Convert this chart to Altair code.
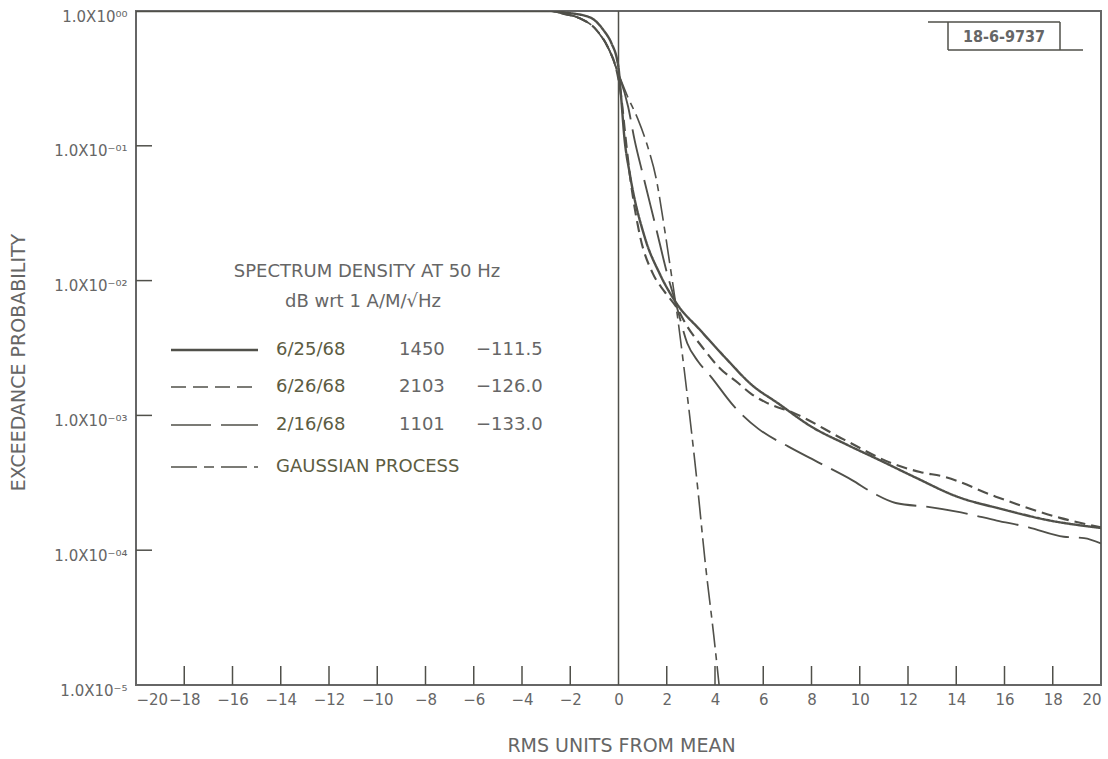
import altair as alt
import pandas as pd

# ---------------- data ----------------
series_names = ["6/25/68", "6/26/68", "2/16/68", "GAUSSIAN PROCESS"]
# x = RMS units from mean, e = log10(exceedance probability)
s1_x = [-20, -2.8, -2.2, -1.21, -0.63, -0.29, -0.06, 0.0, 0.1, 0.25, 0.46, 1.09, 1.71, 2.41, 3.4, 4.52, 5.5, 6.61, 8.0, 9.5, 10.8, 12.3, 14.0, 16.0, 17.77, 20.0]
s1_e = [0, 0, -0.012, -0.045, -0.14, -0.24, -0.36, -0.42, -0.62, -0.95, -1.2, -1.68, -1.95, -2.17, -2.37, -2.59, -2.77, -2.91, -3.084, -3.22, -3.33, -3.46, -3.60, -3.70, -3.776, -3.835]

s2_x = [-20, -2.8, -2.3, -1.63, -0.92, -0.38, -0.12, 0.1, 0.3, 0.46, 0.88, 1.43, 1.9, 2.41, 2.85, 3.5, 4.2, 4.96, 5.5, 6.07, 7.3, 9.35, 11.4, 12.5, 13.5, 15.6, 18.3, 20.0]
s2_e = [0, 0, -0.02, -0.052, -0.14, -0.29, -0.41, -0.62, -0.95, -1.2, -1.66, -1.95, -2.08, -2.2, -2.34, -2.5, -2.65, -2.76, -2.84, -2.90, -2.985, -3.18, -3.36, -3.42, -3.455, -3.60, -3.76, -3.83]

s3_x = [-20, -2.8, -2.3, -1.63, -0.92, -0.38, -0.12, 0.4, 0.67, 1.02, 1.57, 1.99, 2.41, 2.85, 3.3, 3.82, 4.8, 5.8, 7.03, 8.3, 9.68, 10.6, 11.49, 12.9, 14.2, 15.68, 17.0, 18.46, 19.3, 20.0]
s3_e = [0, 0, -0.02, -0.052, -0.14, -0.29, -0.41, -0.71, -0.96, -1.22, -1.62, -1.93, -2.19, -2.465, -2.6, -2.71, -2.935, -3.1, -3.23, -3.35, -3.48, -3.58, -3.65, -3.68, -3.72, -3.78, -3.83, -3.90, -3.91, -3.95]

s4_x = [-20, -2.8, -2.3, -1.63, -0.92, -0.38, -0.12, 0.39, 0.8, 1.2, 1.57, 1.85, 2.13, 2.41, 2.85, 3.26, 3.60, 3.96, 4.17]
s4_e = [0, 0, -0.02, -0.052, -0.14, -0.29, -0.41, -0.64, -0.8, -1.0, -1.25, -1.55, -1.88, -2.22, -2.85, -3.50, -4.10, -4.65, -5.0]

legend_dates = ["6/25/68", "6/26/68", "2/16/68"]
legend_col2 = ["1450", "2103", "1101"]
legend_col3 = ["\u2212111.5", "\u2212126.0", "\u2212133.0"]
legend_head = ["SPECTRUM DENSITY AT 50 Hz", "dB wrt 1 A/M/\u221aHz"]

x_ticks = [-20, -18, -16, -14, -12, -10, -8, -6, -4, -2, 0, 2, 4, 6, 8, 10, 12, 14, 16, 18, 20]
y_ticks = [1, 0.1, 0.01, 0.001, 0.0001, 0.00001]
y_labels = ["1.0X10\u2070\u2070", "1.0X10\u207b\u2070\u00b9", "1.0X10\u207b\u2070\u00b2",
            "1.0X10\u207b\u2070\u00b3", "1.0X10\u207b\u2070\u2074", "1.0X10\u207b\u2075"]
ref_label = "18-6-9737"

# ---------------- build table ----------------
rows = []
for name, xs, es in zip(series_names, [s1_x, s2_x, s3_x, s4_x], [s1_e, s2_e, s3_e, s4_e]):
    for x, e in zip(xs, es):
        rows.append({"series": name, "x": x, "p": 10 ** e})
df = pd.DataFrame(rows)

INK = "#50504a"
TXT = "#666666"
OLIVE = "#5c5c42"
FONT = "DejaVu Sans"
W, H = 965, 674

dash_range = [[1, 0], [11, 6], [42, 10], [24, 6, 7, 6]]
width_range = [2.4, 1.6, 1.5, 1.6]

xscale = alt.Scale(domain=[-20, 20], nice=False, zero=False)
yscale = alt.Scale(type="log", domain=[1e-5, 1], nice=False)

label_arr = "[" + ",".join("'" + s + "'" for s in y_labels) + "]"

x_axis = alt.Axis(values=x_ticks, labelFlush=True, ticks=False, tickSize=0, domain=False, grid=False,
                  labelPadding=7, labelFontSize=15, labelColor=TXT, labelFont=FONT,
                  title="RMS UNITS FROM MEAN", titleFont=FONT, titleFontSize=19, titleFontWeight="normal",
                  titleColor=TXT, titleX=485, titleY=60, titleAlign="center", titleBaseline="middle")
y_axis = alt.Axis(values=y_ticks, ticks=False, tickSize=0, domain=False, grid=False,
                  labelExpr=label_arr + "[round(-log(datum.value)/LN10)]",
                  labelPadding=9, labelFontSize=15, labelColor=TXT, labelFont=FONT,
                  labelBaseline="middle", labelOffset=5,
                  title="EXCEEDANCE PROBABILITY", titleFont=FONT, titleFontSize=19, titleFontWeight="normal",
                  titleColor=TXT, titleX=-118, titleY=351, titleAngle=-90, titleAlign="center",
                  titleBaseline="middle")

curves = alt.Chart(df).mark_line(interpolate="monotone", clip=True, color=INK).encode(
    x=alt.X("x:Q", scale=xscale, axis=x_axis),
    y=alt.Y("p:Q", scale=yscale, axis=y_axis),
    strokeDash=alt.StrokeDash("series:N", scale=alt.Scale(domain=series_names, range=dash_range), legend=None),
    strokeWidth=alt.StrokeWidth("series:N", scale=alt.Scale(domain=series_names, range=width_range), legend=None),
    detail="series:N",
)

zero_line = alt.Chart(pd.DataFrame({"x": [0]})).mark_rule(color=INK, strokeWidth=1.5).encode(
    x=alt.X("x:Q", scale=xscale))

xt = pd.DataFrame({"x": [v for v in x_ticks if v not in (-20, 0, 20)]})
x_tick_marks = alt.Chart(xt).mark_rule(color=INK, strokeWidth=1.5).encode(
    x=alt.X("x:Q", scale=xscale), y=alt.value(H), y2=alt.value(H - 19))

yt = pd.DataFrame({"p": y_ticks[1:-1]})
y_tick_marks = alt.Chart(yt).mark_rule(color=INK, strokeWidth=1.5).encode(
    y=alt.Y("p:Q", scale=yscale), x=alt.value(0), x2=alt.value(16))

layers = [curves, zero_line, x_tick_marks, y_tick_marks]

# ---------------- legend ----------------
def txt(s, x, y, color=OLIVE, size=18, align="left", font=FONT, weight="normal"):
    return alt.Chart(pd.DataFrame({"t": [s]})).mark_text(
        align=align, baseline="middle", fontSize=size, color=color, font=font, fontWeight=weight
    ).encode(text="t:N", x=alt.value(x), y=alt.value(y))

def seg(x1, x2, y, dash, w):
    return alt.Chart(pd.DataFrame({"a": [0]})).mark_rule(color=INK, strokeWidth=w, strokeDash=dash).encode(
        x=alt.value(x1), x2=alt.value(x2), y=alt.value(y))

legend_dash = [[1, 0], [15, 7], [40, 10], [26, 7, 10, 7]]
layers.append(txt(legend_head[0], 231, 261, color=TXT, size=18, align="center"))
layers.append(txt(legend_head[1], 227, 291, color=TXT, size=18, align="center"))
row_y = [339, 376, 414, 456]
for i, name in enumerate(series_names):
    layers.append(seg(35, 122, row_y[i], legend_dash[i], width_range[i]))
    if i < 3:
        layers.append(txt(legend_dates[i], 140, row_y[i]))
        layers.append(txt(legend_col2[i], 263, row_y[i], color=TXT))
        layers.append(txt(legend_col3[i], 340, row_y[i], color=TXT))
    else:
        layers.append(txt(name, 140, row_y[i]))

# ---------------- reference box ----------------
bx1, bx2, by1, by2 = 812, 924, 11, 39
layers.append(seg(792, bx2, by1, [1, 0], 1.5))
layers.append(seg(bx1, 947, by2, [1, 0], 1.5))
layers.append(alt.Chart(pd.DataFrame({"a": [0]})).mark_rule(color=INK, strokeWidth=1.5).encode(
    x=alt.value(bx1), y=alt.value(by1), y2=alt.value(by2)))
layers.append(alt.Chart(pd.DataFrame({"a": [0]})).mark_rule(color=INK, strokeWidth=1.5).encode(
    x=alt.value(bx2), y=alt.value(by1), y2=alt.value(by2)))
layers.append(txt(ref_label, (bx1 + bx2) / 2, (by1 + by2) / 2 + 1, color=TXT, size=16, align="center",
                  font="Liberation Sans Narrow, DejaVu Sans Condensed, DejaVu Sans", weight="bold"))

chart = alt.layer(*layers).properties(
    width=W, height=H,
    autosize=alt.AutoSizeParams(type="none"),
    padding={"left": 136, "top": 11, "right": 7, "bottom": 74},
    background="white",
).configure_view(stroke="#666666", strokeWidth=2)

chart.save("out.html", embed_options={"renderer": "svg", "actions": False})
